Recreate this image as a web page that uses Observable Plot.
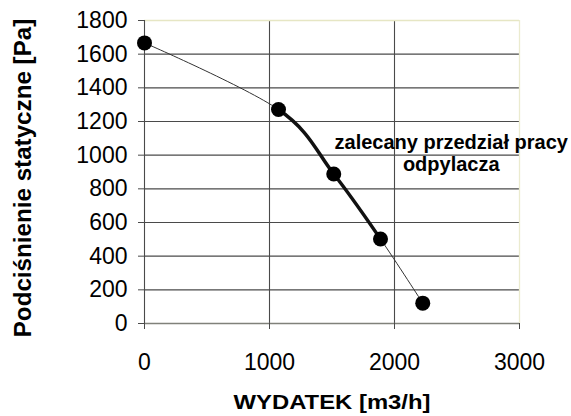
<!DOCTYPE html>
<html>
<head>
<meta charset="utf-8">
<script src="https://cdn.jsdelivr.net/npm/d3@7"></script>
<script src="https://cdn.jsdelivr.net/npm/@observablehq/plot@0.6"></script>
<style>
  html, body { margin: 0; padding: 0; background: white; }
</style>
</head>
<body>
<div id="chart"></div>
<script>
// ---- data ----
const flow = [0, 1072, 1514, 1888, 2226];          // WYDATEK [m3/h]
const pressure = [1667, 1271, 888, 502, 121];      // Podciśnienie statyczne [Pa]
const xTicks = [0, 1000, 2000, 3000];
const yTicks = [0, 200, 400, 600, 800, 1000, 1200, 1400, 1600, 1800];
const xTitle = "WYDATEK [m3/h]";
const yTitle = "Podciśnienie statyczne [Pa]";
const noteLines = ["zalecany przedział pracy", "odpylacza"];
const noteFlow = 2454;
const notePressure = 1012;

const points = flow.map((x, i) => ({x, y: pressure[i]}));
const gridY = yTicks.filter(v => v > 0 && v < 1800);
const gridX = xTicks.filter(v => v > 0 && v < 3000);

// thick overlay: same smooth curve, only segments 1..2 (recommended range)
const thickCurve = (context) => {
  let i = 0;
  const proxy = {
    moveTo: (x, y) => context.moveTo(x, y),
    lineTo: (x, y) => context.lineTo(x, y),
    bezierCurveTo: (a, b, c, d, x, y) => {
      if (i >= 1 && i <= 2) context.bezierCurveTo(a, b, c, d, x, y);
      else context.moveTo(x, y);
      i++;
    },
    closePath: () => context.closePath()
  };
  return d3.curveCardinal(proxy);
};

const chart = Plot.plot({
  width: 571,
  height: 416,
  marginLeft: 144,
  marginRight: 52,
  marginTop: 20,
  marginBottom: 93,
  style: {fontFamily: "'Liberation Sans', Arial, sans-serif", background: "white", color: "black"},
  x: {domain: [0, 3000]},
  y: {domain: [0, 1800]},
  marks: [
    Plot.ruleY(gridY, {stroke: "#4a4a4a", strokeWidth: 1.1}),
    Plot.ruleX(gridX, {stroke: "#4a4a4a", strokeWidth: 1.1}),
    Plot.ruleY([1800], {stroke: "#e6e6c4", strokeWidth: 1.3}),
    Plot.ruleX([3000], {stroke: "#ebebcf", strokeWidth: 1.3}),
    Plot.ruleY([0], {stroke: "#80817a", strokeWidth: 1.3}),
    Plot.ruleX([0], {stroke: "#4a4a4a", strokeWidth: 1.1}),
    Plot.axisX({ticks: xTicks, tickSize: 6, tickPadding: 24, fontSize: 23, label: null, stroke: "#4a4a4a", tickFormat: d => String(d)}),
    Plot.axisY({ticks: yTicks, tickSize: 6, tickPadding: 11, fontSize: 23, label: null, stroke: "#4a4a4a", tickFormat: d => String(d)}),
    Plot.line(points, {x: "x", y: "y", curve: "cardinal", stroke: "#333", strokeWidth: 1}),
    Plot.line(points, {x: "x", y: "y", curve: thickCurve, stroke: "#111", strokeWidth: 3.5}),
    Plot.dot(points, {x: "x", y: "y", r: 7.5, fill: "black", stroke: "none"}),
    Plot.text([{label: noteLines.join("\n"), x: noteFlow, y: notePressure}], {
      x: "x", y: "y", text: "label", fontSize: 20, fontWeight: "bold", lineHeight: 1.1,
      textAnchor: "middle", lineAnchor: "middle", fill: "black"
    }),
    Plot.text([yTitle], {
      text: d => d, frameAnchor: "left", rotate: -90, dx: -121, dy: 6,
      fontSize: 24.2, fontWeight: "bold", textAnchor: "middle", lineAnchor: "middle", fill: "black"
    }),
    Plot.text([xTitle], {
      text: d => d, frameAnchor: "bottom", dy: 79,
      fontSize: 20.5, fontWeight: "bold", textAnchor: "middle", lineAnchor: "middle", fill: "black"
    })
  ]
});

document.getElementById("chart").appendChild(chart);

chart.querySelectorAll("text").forEach(t => {
  if (t.textContent === xTitle) {
    t.setAttribute("textLength", 197);
    t.setAttribute("lengthAdjust", "spacingAndGlyphs");
  }
});
</script>
</body>
</html>
